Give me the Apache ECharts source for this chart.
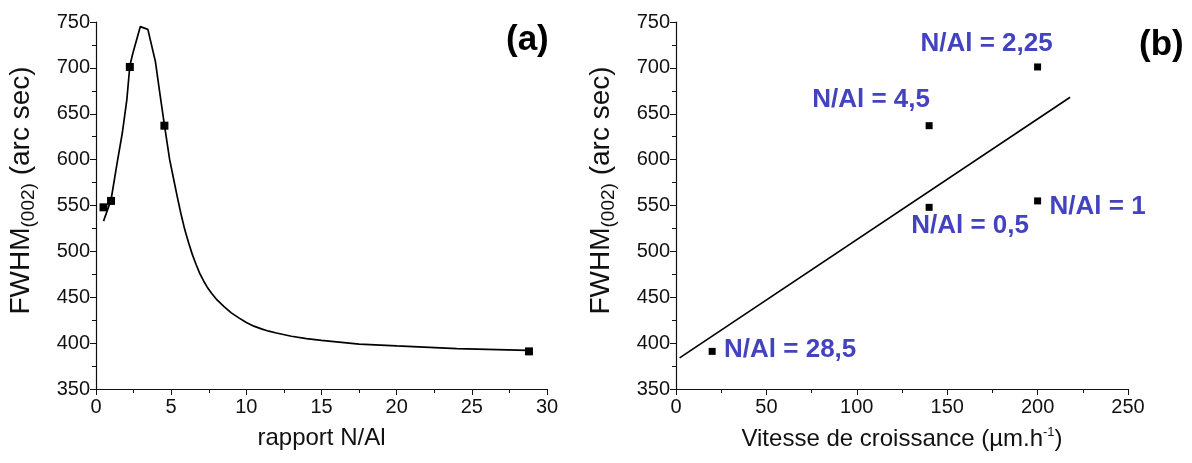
<!DOCTYPE html>
<html>
<head>
<meta charset="utf-8">
<script src="https://cdn.jsdelivr.net/npm/echarts@6/dist/echarts.min.js"></script>
<style>
  html, body { margin: 0; padding: 0; background: #fff; }
  #chartWrap { width: 1192px; height: 463px; }
</style>
</head>
<body>
<div id="chartWrap"></div>
<script>
// (a) courbe FWHM en fonction du rapport N/Al
var curveX = [0.5, 1.0, 1.4, 1.75, 2.05, 2.25, 2.45, 2.95, 3.45, 3.95, 4.25, 4.55, 4.9, 5.15, 5.4, 5.65, 5.9, 6.15, 6.4, 6.65, 6.9, 7.15, 7.4, 7.7, 8.0, 8.5, 9.0, 9.5, 10.0, 10.5, 11.0, 11.5, 12.0, 13.0, 14.0, 15.0, 17.5, 20.0, 24.0, 28.7];
var curveY = [533, 556, 596, 629, 665, 702, 716, 745, 742, 707, 672, 638, 600, 580, 560, 541, 524, 510, 497, 486, 476, 468, 461, 454, 448, 440, 433, 427.5, 422.5, 418.5, 415.5, 413, 411, 407.5, 405, 403, 399, 397, 394, 392];

// points mesures
var ratioX = [0.5, 1, 2.25, 4.55, 28.8];
var ratioLabels = ['0,5', '1', '2,25', '4,5', '28,5'];
var fwhm = [548, 555, 701, 637, 391];
// (b) vitesse de croissance
var speed = [140, 200, 200, 140, 20];
// droite d'ajustement
var fitX = [2, 218];
var fitY = [384, 668];

var FONT = '"Liberation Sans", Arial, sans-serif';
var BLUE = '#4343c0';

function zip(a, b) {
  var out = [];
  for (var i = 0; i < a.length; i++) {
    out.push([a[i], b[i]]);
  }
  return out;
}

// decalage des etiquettes (b)
var labelOffsets = [[41, 18], [60, 6], [-51, -23], [-58, -26], [78, -2]];
var speedData = [];
for (var i = 0; i < speed.length; i++) {
  speedData.push({
    value: [speed[i], fwhm[i]],
    label: {
      show: true,
      position: 'inside',
      offset: labelOffsets[i],
      formatter: 'N/Al = ' + ratioLabels[i]
    }
  });
}

function xAxisCfg(idx, max, interval, name) {
  return {
    type: 'value', gridIndex: idx, min: 0, max: max, interval: interval,
    name: name, nameLocation: 'middle', nameGap: 37,
    nameTextStyle: {
      fontFamily: FONT, fontSize: 24, color: '#111',
      rich: { sup: { fontFamily: FONT, fontSize: 13, color: '#111', padding: [0, 0, 14, 0] } }
    },
    axisLine: { show: true, onZero: false, lineStyle: { color: '#111', width: 1.2 } },
    axisTick: { show: true, length: 6, lineStyle: { color: '#111' } },
    minorTick: { show: true, splitNumber: 2, length: 4, lineStyle: { color: '#111' } },
    axisLabel: { fontFamily: FONT, fontSize: 20, color: '#111', margin: 8 },
    splitLine: { show: false }
  };
}

function yAxisCfg(idx) {
  return {
    type: 'value', gridIndex: idx, min: 350, max: 750, interval: 50,
    name: 'FWHM{sub|(002)} (arc sec)', nameLocation: 'middle', nameGap: 58, nameRotate: 90,
    nameTextStyle: {
      fontFamily: FONT, fontSize: 28, color: '#111', padding: [0, 0, 0, 30],
      rich: { sub: { fontFamily: FONT, fontSize: 19, color: '#111', padding: [14, 0, 0, 0] } }
    },
    axisLine: { show: true, onZero: false, lineStyle: { color: '#111', width: 1.2 } },
    axisTick: { show: true, length: 6, lineStyle: { color: '#111' } },
    minorTick: { show: true, splitNumber: 2, length: 4, lineStyle: { color: '#111' } },
    axisLabel: { fontFamily: FONT, fontSize: 20, color: '#111', margin: 6 },
    splitLine: { show: false }
  };
}

var myChart = echarts.init(document.getElementById('chartWrap'), null, { renderer: 'canvas' });
myChart.setOption({
  backgroundColor: '#fff',
  animation: false,
  title: [
    { text: '(a)', left: 501, top: 18, textStyle: { fontFamily: FONT, fontSize: 35, fontWeight: 'bold', color: '#000' } },
    { text: '(b)', left: 1134, top: 23, textStyle: { fontFamily: FONT, fontSize: 35, fontWeight: 'bold', color: '#000' } }
  ],
  grid: [
    { left: 96, top: 22, width: 451, height: 367 },
    { left: 676, top: 22, width: 452, height: 367 }
  ],
  xAxis: [
    xAxisCfg(0, 30, 5, 'rapport N/Al'),
    xAxisCfg(1, 250, 50, 'Vitesse de croissance (µm.h{sup|-1})')
  ],
  yAxis: [yAxisCfg(0), yAxisCfg(1)],
  series: [
    {
      type: 'line', xAxisIndex: 0, yAxisIndex: 0,
      data: zip(curveX, curveY), showSymbol: false, smooth: false,
      lineStyle: { color: '#000', width: 1.7 }
    },
    {
      type: 'scatter', xAxisIndex: 0, yAxisIndex: 0,
      data: zip(ratioX, fwhm), symbol: 'rect', symbolSize: 8,
      itemStyle: { color: '#000', opacity: 1 }
    },
    {
      type: 'line', xAxisIndex: 1, yAxisIndex: 1,
      data: zip(fitX, fitY), showSymbol: false,
      lineStyle: { color: '#000', width: 1.6 }
    },
    {
      type: 'scatter', xAxisIndex: 1, yAxisIndex: 1,
      data: speedData, symbol: 'rect', symbolSize: 7,
      itemStyle: { color: '#000', opacity: 1 },
      label: { fontFamily: FONT, fontSize: 26, fontWeight: 'bold', color: BLUE }
    }
  ]
});
</script>
</body>
</html>
